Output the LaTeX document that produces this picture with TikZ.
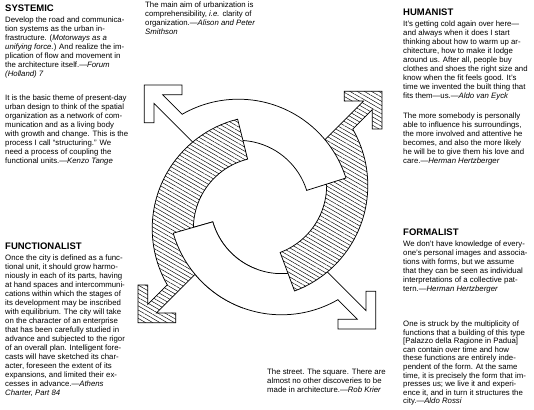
\documentclass[tikz,border=0pt]{standalone}
\usepackage{fontspec}
\setmainfont{Liberation Sans}
\usetikzlibrary{patterns.meta}
\newcommand\bandpath[1]{(-94.59,-79.5) arc[start angle=210,end angle=#1,radius=115] -- ([shift={(5,-22)}]#1:73) arc[start angle=#1,end angle=215,radius=73] -- (-51.83,-54.23) -- (-105.68,-108.09) -- (-85.95,-108.09) -- (-85.95,-118.09) -- (-124.45,-118.09) -- (-124.45,-79.59) -- (-114.45,-79.59) -- (-114.45,-99.32) -- cycle}
\begin{document}
\begin{tikzpicture}[x=1pt,y=1pt,
  bandline/.style={line width=0.75pt, line join=miter},
  hatchband/.style={bandline, draw=black, preaction={fill=white}, pattern={Lines[angle=-30,distance=3.6pt,line width=0.45pt]}},
  whiteband/.style={bandline, draw=black, fill=white},
  bodytext/.style={anchor=north west, inner sep=0pt, align=left, font=\fontsize{7.8}{9}\selectfont},
  headtext/.style={anchor=north west, inner sep=0pt, font=\fontsize{9.5}{10}\selectfont\bfseries},
]
\useasboundingbox (0,0) rectangle (534,409);
\fill[white] (0,0) rectangle (534,409);

\begin{scope}[shift={(260,202)},scale=0.98]
  % D: white, tail to bottom right, ends at left
  \begin{scope}[rotate=90] \draw[whiteband] \bandpath{106}; \end{scope}
  % C: hatched, tail to top right, ends at bottom
  \begin{scope}[rotate=180] \draw[hatchband] \bandpath{110.5}; \end{scope}
  % B: white, tail to top left, ends at right
  \begin{scope}[rotate=-90] \draw[whiteband] \bandpath{107.5}; \end{scope}
  % A: hatched, tail to bottom left, ends at top
  \draw[hatchband] \bandpath{104};
  % end of D laid over the start of A
  \begin{scope}[rotate=90]
    \fill[white] ([shift={(5,-22)}]160:115) arc[start angle=160,end angle=106,radius=115] -- ([shift={(5,-22)}]106:73) arc[start angle=106,end angle=160,radius=73] -- cycle;
    \draw[bandline] ([shift={(5,-22)}]160:115) arc[start angle=160,end angle=106,radius=115] -- ([shift={(5,-22)}]106:73) arc[start angle=106,end angle=160,radius=73];
  \end{scope}
\end{scope}

\node[headtext] (hsys) at (5,404.4) {SYSTEMIC};
\node[bodytext] (sys1) at (5,392.1) {Develop the road and communica-\\tion systems as the urban in-\\frastructure. (\textit{Motorways as a}\\\textit{unifying force.}) And realize the im-\\plication of flow and movement in\\the architecture itself.—\textit{Forum}\\\textit{(Holland) 7}};
\node[bodytext] (sys2) at (5,314.3) {It is the basic theme of present-day\\urban design to think of the spatial\\organization as a network of com-\\munication and as a living body\\with growth and change. This is the\\process I call “structuring.” We\\need a process of coupling the\\functional units.—\textit{Kenzo Tange}};

\node[headtext] (hfun) at (5,166.4) {FUNCTIONALIST};
\node[bodytext] (fun) at (5,154.6) {Once the city is defined as a func-\\tional unit, it should grow harmo-\\niously in each of its parts, having\\at hand spaces and intercommuni-\\cations within which the stages of\\its development may be inscribed\\with equilibrium. The city will take\\on the character of an enterprise\\that has been carefully studied in\\advance and subjected to the rigor\\of an overall plan. Intelligent fore-\\casts will have sketched its char-\\acter, foreseen the extent of its\\expansions, and limited their ex-\\cesses in advance.—\textit{Athens}\\\textit{Charter, Part 84}};

\node[bodytext] (aim) at (145,407.1) {The main aim of urbanization is\\comprehensibility, \textit{i.e.} clarity of\\organization.—\textit{Alison and Peter}\\\textit{Smithson}};

\node[headtext] (hhum) at (403,400.4) {HUMANIST};
\node[bodytext] (hum1) at (403,388.6) {It's getting cold again over here—\\and always when it does I start\\thinking about how to warm up ar-\\chitecture, how to make it lodge\\around us. After all, people buy\\clothes and shoes the right size and\\know when the fit feels good. It's\\time we invented the built thing that\\fits them—us.—\textit{Aldo van Eyck}};
\node[bodytext] (hum2) at (403,295.9) {The more somebody is personally\\able to influence his surroundings,\\the more involved and attentive he\\becomes, and also the more likely\\he will be to give them his love and\\care.—\textit{Herman Hertzberger}};

\node[headtext] (hfor) at (403,180.4) {FORMALIST};
\node[bodytext] (for1) at (403,168.6) {We don't have knowledge of every-\\one's personal images and associa-\\tions with forms, but we assume\\that they can be seen as individual\\interpretations of a collective pat-\\tern.—\textit{Herman Hertzberger}};
\node[bodytext, font=\fontsize{7.8}{8.55}\selectfont] (for2) at (403,88.1) {One is struck by the multiplicity of\\functions that a building of this type\\{[}Palazzo della Ragione in Padua{]}\\can contain over time and how\\these functions are entirely inde-\\pendent of the form. At the same\\time, it is precisely the form that im-\\presses us; we live it and experi-\\ence it, and in turn it structures the\\city.—\textit{Aldo Rossi}};

\node[bodytext] (street) at (267,40.1) {The street. The square. There are\\almost no other discoveries to be\\made in architecture.—\textit{Rob Krier}};
\end{tikzpicture}
\end{document}
